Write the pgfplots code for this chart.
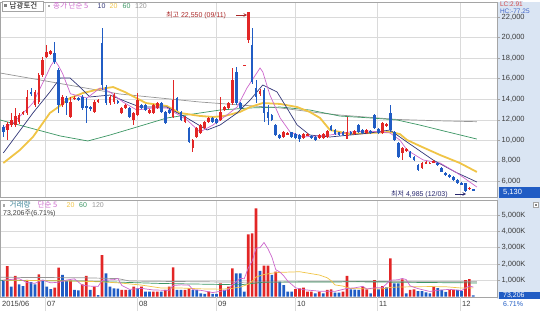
\documentclass[border=0pt]{standalone}
\usepackage{fontspec}
\setmainfont{Liberation Sans}
\newfontfamily\kr{Noto Sans CJK KR}
\usepackage{pgfplots}
\usepackage{pgfplotstable}
\pgfplotsset{compat=1.18}
\definecolor{cup}{RGB}{226,38,38}
\definecolor{cdn}{RGB}{32,92,196}
\definecolor{ma5}{RGB}{204,102,204}
\definecolor{ma10}{RGB}{50,55,120}
\definecolor{ma20}{RGB}{240,196,70}
\definecolor{ma60}{RGB}{60,150,100}
\definecolor{ma120}{RGB}{150,150,150}
\definecolor{gridc}{RGB}{218,218,218}
\definecolor{framec}{RGB}{165,165,165}
\definecolor{band}{RGB}{218,229,243}
\definecolor{txt}{RGB}{60,60,60}
\definecolor{annoA}{RGB}{170,40,40}
\definecolor{annoB}{RGB}{40,40,110}
\definecolor{volc}{RGB}{60,130,150}

\pgfplotstableread{
i o h l c
1 11000 11780 10030 11590
2 11490 12660 11290 11980
3 11490 13150 11290 12370
4 11780 12660 11590 12460
5 12660 12850 12460 12720
6 12660 14900 12460 14220
8 13440 14900 13240 14710
9 13730 16560 13540 16360
10 16360 18120 16170 17830
11 18120 19290 18020 18610
12 18410 18800 18310 18700
15 13440 14410 13240 14220
17 12270 14250 12140 13730
18 14080 14300 13900 14140
23 12790 13900 12700 13760
24 13730 14000 13600 13930
27 13630 14400 13400 14220
28 13730 14600 13540 14410
30 12630 13240 12560 13120
31 13120 13540 13050 13440
33 11980 12760 11490 12630
34 12460 14580 12370 13930
37 12630 13050 12560 12950
38 12630 13540 12560 13440
39 13120 13700 13050 13600
43 12300 15880 12170 13930
46 11810 12400 11700 12300
48 9220 10120 8900 10030
49 10350 11290 10250 11170
50 10680 11590 10580 11490
51 11170 11900 11100 11810
52 11810 12250 11700 12140
55 11980 14250 11880 12790
56 12950 13340 12850 13270
57 13120 13700 13050 13600
58 13600 17010 13440 15880
61 17290 17350 17290 17350
62 19780 22550 19480 22550
65 14510 15000 14300 14800
71 10350 10900 10250 10780
72 10610 10760 10510 10680
76 10220 10700 10120 10610
77 10480 10700 10400 10610
80 10190 10600 10100 10510
81 10250 10700 10150 10610
82 10350 11000 10250 10900
87 10100 12300 10100 10840
89 10610 11000 10550 10930
92 10710 11100 10650 11000
96 10680 11750 10600 11650
97 11390 11700 11300 11590
101 8730 9300 8080 9220
102 9000 9200 8900 9100
106 7270 7850 7200 7750
107 7750 8000 7700 7910
108 7730 7900 7650 7800
109 7810 8100 7750 7980
118 5250 5450 5150 5350
}\candUp

\pgfplotstableread{
i o h l c
0 11320 11490 10320 10840
7 14700 15100 14320 14510
13 18510 19580 17440 17630
14 16850 17050 12660 13440
16 14120 14320 12460 13630
19 14120 14200 13830 13930
20 14200 14410 12950 13120
21 13340 14090 11650 13220
22 13210 13300 12900 13020
25 19480 20950 14900 15390
26 15170 15390 13440 13600
29 13860 13930 13500 13600
32 13120 13240 12170 12300
35 13440 13540 13050 13120
36 13440 13540 12850 12950
40 13600 13700 12700 12790
41 12790 12900 11550 11650
42 12950 13050 12560 12630
44 14090 14200 12850 12950
45 12790 12900 11880 11980
47 11170 11300 9760 9860
53 12140 12250 11700 11810
54 12040 12140 11550 11650
59 16690 17170 13440 13600
60 13600 13700 13050 13120
63 19290 20950 15500 15710
64 15050 15880 13600 14250
66 14900 15100 11810 12630
67 12790 13440 11490 12140
68 12460 12560 11880 11980
69 11490 11590 10420 10510
70 10510 10600 10100 10190
73 10780 10850 10250 10350
74 10610 10700 10150 10250
75 10510 10600 9860 10120
78 10460 10550 10100 10190
79 10350 10420 9960 10030
83 11420 11500 10900 11000
84 11000 11100 10480 10580
85 10780 10850 10420 10510
86 10840 10900 10420 10510
88 10840 10900 10500 10610
90 11490 11600 10750 10840
91 11000 11050 10600 10680
93 10930 11000 10600 10680
94 12460 12560 11100 11170
95 11100 11200 10600 10680
98 12630 13440 10840 11000
99 10840 10900 9950 10030
100 9700 9800 8300 8400
103 8880 8950 8300 8400
104 8400 8450 8000 8080
105 7590 7650 7050 7100
110 7750 7850 7500 7590
111 7270 7350 6900 6940
112 6840 6900 6550 6610
113 6610 6700 6350 6390
114 6450 6500 6050 6130
115 6130 6200 5750 5800
116 5850 5900 5600 5650
117 5830 5850 4985 5010
119 5200 5250 5050 5130
}\candDn

\pgfplotstableread{
i v
1 1870
3 1260
6 1020
9 1360
13 540
14 1770
17 980
20 750
21 1260
23 600
25 2546
30 400
31 400
33 600
35 600
38 300
39 300
41 400
42 600
43 1780
46 400
47 500
52 300
55 800
57 600
58 1720
62 3810
63 3880
64 5410
66 1890
67 1890
69 1520
74 460
75 500
76 540
77 300
78 300
80 300
82 400
83 440
86 300
87 1260
91 600
92 440
94 1010
96 640
98 2340
101 1050
103 400
104 440
109 600
113 400
114 400
117 1010
118 1060
}\volUp

\pgfplotstableread{
i v
0 1010
2 600
4 750
5 640
7 890
8 750
10 1020
11 600
12 460
15 1320
16 950
18 400
19 380
22 400
24 90
26 1420
27 600
28 500
29 480
32 400
34 500
36 300
37 300
40 300
44 400
45 400
48 400
49 400
50 200
51 160
53 160
54 160
56 400
59 1420
60 1420
61 300
65 1580
68 1320
70 910
71 700
72 300
73 300
79 200
81 200
84 240
85 240
88 440
89 420
90 400
93 200
95 440
97 560
99 800
100 810
102 200
105 330
106 330
107 250
108 200
110 520
111 400
112 280
115 400
116 350
119 73
}\volDn

\begin{document}
\begin{tikzpicture}
\useasboundingbox (0,0) rectangle (540pt,311pt);
\fill[band] (497pt,12pt) rectangle (540pt,309pt);

% ---------------- price panel
\begin{axis}[
  at={(0pt,114pt)}, anchor=south west,
  scale only axis, width=497pt, height=195pt,
  xmin=-0.84, xmax=125, ymin=4468, ymax=23481,
  axis line style={draw=framec, line width=0.5pt},
  xtick={10.56,33.85,53.85,73.85,94.6,115.6}, xticklabels={},
  xmajorgrids, ymajorgrids,
  grid style={draw=gridc, line width=0.5pt},
  ytick={6000,8000,10000,12000,14000,16000,18000,20000,22000},
  yticklabels={{6,000},{8,000},{10,000},{12,000},{14,000},{16,000},{18,000},{20,000},{22,000}},
  ytick pos=right, yticklabel pos=right,
  tick align=outside, major tick length=3pt,
  xtick style={draw=none}, ytick style={draw=framec, line width=0.5pt},
  yticklabel style={font=\fontsize{7.5}{9}\selectfont, text=txt, inner sep=1.5pt},
  scaled y ticks=false,
]
% moving averages
\addplot[ma120, line width=0.7pt] coordinates {(-0.84,16560) (9.3,15880) (19.4,15190) (29.5,14510) (39.7,14120) (49.8,13730) (59.9,13440) (70.1,13150) (80.2,12660) (85.2,12460) (99.7,12030) (110,11900) (119.9,11810)};
\addplot[ma60, line width=0.7pt] coordinates {(-0.84,11980) (6.8,11200) (14.4,10420) (21.4,9930) (27,10510) (33.8,11290) (41.4,12170) (49.8,12660) (54.9,12950) (62.5,13150) (70.1,13240) (77.6,12950) (85.2,12360) (92.8,12180) (99.7,11980) (105.5,11480) (111.8,10880) (119.9,10120)};
\addplot[ma20, line width=1.8pt] coordinates {(0,7780) (4.2,9050) (7.5,10320) (11.8,12660) (13.6,13150) (16.9,14120) (20.2,14610) (24.5,15000) (27.8,15190) (30.8,14700) (36.1,13630) (41.4,13340) (44.7,12660) (49.8,12370) (53.1,12270) (56.1,12370) (59.9,12760) (62.5,13240) (65.7,13630) (70.1,13540) (74.4,13240) (77.6,12760) (80.2,12170) (82.7,11000) (87.8,10610) (92.8,10710) (97.9,10810) (100.4,10610) (102.2,10030) (105.5,9440) (110.6,8560) (115.6,7780) (119.9,6910)};
\addplot[ma10, line width=0.7pt] coordinates {(0,8760) (7.5,12660) (11.8,14710) (14.4,16070) (16.9,16070) (19.4,15190) (21.9,14220) (27,14410) (31.3,13730) (34.6,13240) (41.4,13240) (46.5,12170) (51.6,11000) (54.9,11490) (59.2,12660) (62.5,13930) (65.7,15390) (69.3,14710) (71.8,13150) (74.4,11490) (77.6,10510) (82.7,10320) (87.8,10510) (92.8,10710) (97.9,11000) (102.2,9830) (108.8,8080) (114.4,6910) (119.9,5930)};
\addplot[ma5, line width=0.7pt] coordinates {(0,11200) (2.5,11680) (7.5,13630) (11,16400) (12,17240) (13,17830) (14,17240) (15,16520) (16,15520) (17,14530) (21.2,14120) (24.5,15100) (27,14710) (30.3,13730) (33.8,12950) (37.9,13150) (41.4,13150) (46.5,11980) (49.8,10810) (53.1,11490) (56.6,12460) (59.2,13240) (61.7,15100) (65,17045) (65.7,16660) (67.5,14410) (70.1,12170) (72.6,10810) (75.9,10320) (82.7,10510) (87.8,10810) (92.8,10900) (97.9,10710) (100.4,10030) (102.2,9050) (106.3,8080) (110.6,7780) (114.9,6810) (119.9,5440)};
% candles: wicks and bodies
\addplot[draw=none, mark=none, forget plot, error bars/.cd, y dir=both, y explicit, error mark=none,
  error bar style={draw=cup, line width=0.8pt}]
  table[x=i, y expr={0.5*(\thisrow{h}+\thisrow{l})}, y error expr={0.5*(\thisrow{h}-\thisrow{l})}] {\candUp};
\addplot[draw=none, mark=none, forget plot, error bars/.cd, y dir=both, y explicit, error mark=none,
  error bar style={draw=cup, line width=2.7pt}]
  table[x=i, y expr={0.5*(\thisrow{o}+\thisrow{c})}, y error expr={0.5*(\thisrow{c}-\thisrow{o})}] {\candUp};
\addplot[draw=none, mark=none, forget plot, error bars/.cd, y dir=both, y explicit, error mark=none,
  error bar style={draw=cdn, line width=0.8pt}]
  table[x=i, y expr={0.5*(\thisrow{h}+\thisrow{l})}, y error expr={0.5*(\thisrow{h}-\thisrow{l})}] {\candDn};
\addplot[draw=none, mark=none, forget plot, error bars/.cd, y dir=both, y explicit, error mark=none,
  error bar style={draw=cdn, line width=2.7pt}]
  table[x=i, y expr={0.5*(\thisrow{o}+\thisrow{c})}, y error expr={0.5*(\thisrow{o}-\thisrow{c})}] {\candDn};
\end{axis}

% ---------------- volume panel
\begin{axis}[
  at={(0pt,14pt)}, anchor=south west,
  scale only axis, width=497pt, height=97pt,
  xmin=-0.84, xmax=125, ymin=-30, ymax=5920,
  axis line style={draw=framec, line width=0.5pt},
  xtick={-0.84,10.56,33.85,53.85,73.85,94.6,115.6},
  xticklabels={2015/06,07,08,09,10,11,12},
  xticklabel style={font=\fontsize{7.5}{9}\selectfont, text=txt, anchor=north west, inner sep=1pt, xshift=1pt},
  xmajorgrids, ymajorgrids,
  grid style={draw=gridc, line width=0.5pt},
  ytick={1000,2000,3000,4000,5000},
  yticklabels={{1,000K},{2,000K},{3,000K},{4,000K},{5,000K}},
  ytick pos=right, yticklabel pos=right,
  tick align=outside, major tick length=3pt,
  xtick style={draw=none}, ytick style={draw=framec, line width=0.5pt},
  yticklabel style={font=\fontsize{7.5}{9}\selectfont, text=txt, inner sep=1.5pt},
  scaled y ticks=false,
]
\addplot[ybar, bar width=2.7pt, bar shift=0pt, fill=cup, draw=none, forget plot] table[x=i, y=v] {\volUp};
\addplot[ybar, bar width=2.7pt, bar shift=0pt, fill=cdn, draw=none, forget plot] table[x=i, y=v] {\volDn};
\addplot[ma120, line width=0.7pt] coordinates {(-0.84,1180) (20,1150) (29,1100) (32,950) (60,880) (90,920) (119.9,900)};
\addplot[ma60, line width=0.7pt] coordinates {(-0.84,1000) (20,950) (40,800) (60,720) (66,880) (90,900) (119.9,830)};
\addplot[ma20, line width=0.7pt] coordinates {(0,1000) (10,980) (19,940) (25,900) (30,820) (35,700) (40,520) (45,520) (50,470) (55,450) (58,500) (60,580) (62,750) (63,930) (64,1200) (65,1270) (66,1350) (68,1430) (70,1480) (75,1520) (80,1320) (82,1150) (83,970) (84,710) (86,640) (88,490) (92,470) (96,470) (98,560) (100,580) (104,600) (108,610) (112,600) (116,520) (119,530)};
\addplot[ma5, line width=0.7pt] coordinates {(0,1000) (4,1098) (6,854) (8,810) (10,1008) (12,838) (14,878) (16,1008) (18,1084) (20,692) (22,638) (24,620) (25,979) (26,1011) (28,1031) (29,1109) (30,680) (32,436) (35,500) (38,400) (42,380) (43,676) (45,716) (47,696) (48,420) (50,380) (53,244) (55,316) (57,424) (58,736) (60,1112) (61,1092) (62,1734) (63,2166) (64,2964) (65,2996) (66,3314) (67,2930) (68,2418) (69,1640) (70,1506) (71,1268) (72,950) (73,746) (74,534) (76,420) (80,328) (84,316) (87,496) (89,532) (91,624) (92,460) (94,530) (96,546) (98,998) (100,1030) (101,1112) (102,1040) (103,652) (105,484) (108,310) (110,380) (113,440) (116,366) (117,512) (118,644) (119,579)};
\end{axis}

% month separators in label row
\foreach \mx in {45,137,216,295,377,460} {\draw[gridc, line width=0.5pt] (\mx pt,0pt) -- (\mx pt,14pt);}

% ---- upper legend
\draw[framec, fill=white, line width=0.5pt] (2pt,300pt) rectangle (43pt,310pt);
\fill[gray] (4pt,303.5pt) rectangle (7pt,306.5pt);
\node[anchor=west, inner sep=0pt, font=\kr\fontsize{7.5}{9}\selectfont, text=black] at (9.5pt,305pt) {남광토건};
\fill[gray!70] (47.5pt,303.5pt) rectangle (50pt,306pt);
\node[anchor=west, inner sep=0pt, font=\kr\fontsize{7.5}{9}\selectfont, text=ma5] at (53pt,305pt) {종가 단순 5};
\node[anchor=west, inner sep=0pt, font=\fontsize{7}{9}\selectfont, text=ma10] at (97.5pt,305pt) {10};
\node[anchor=west, inner sep=0pt, font=\fontsize{7}{9}\selectfont, text=ma20] at (109.5pt,305pt) {20};
\node[anchor=west, inner sep=0pt, font=\fontsize{7}{9}\selectfont, text=ma60] at (122.5pt,305pt) {60};
\node[anchor=west, inner sep=0pt, font=\fontsize{7}{9}\selectfont, text=ma120] at (135pt,305pt) {120};

% ---- lower legend
\fill[gray!70] (2.5pt,104.5pt) rectangle (5pt,107pt);
\node[anchor=west, inner sep=0pt, font=\kr\fontsize{7.5}{9}\selectfont, text=volc] at (9.5pt,106pt) {거래량};
\node[anchor=west, inner sep=0pt, font=\kr\fontsize{7.5}{9}\selectfont, text=ma5] at (37.5pt,106pt) {단순 5};
\node[anchor=west, inner sep=0pt, font=\fontsize{7}{9}\selectfont, text=ma20] at (66.5pt,106pt) {20};
\node[anchor=west, inner sep=0pt, font=\fontsize{7}{9}\selectfont, text=ma60] at (79pt,106pt) {60};
\node[anchor=west, inner sep=0pt, font=\fontsize{7}{9}\selectfont, text=ma120] at (92pt,106pt) {120};
\node[anchor=west, inner sep=0pt, font=\fontsize{7}{9}\selectfont, text=txt] at (3pt,97.5pt) {73,206{\kr 주}(6.71\%)};

% ---- annotations
\node[anchor=west, inner sep=0pt, font=\fontsize{7}{9}\selectfont, text=annoA] at (166pt,296pt) {{\kr 최고} 22,550 (09/11)};
\draw[annoA, -stealth, line width=0.6pt] (236pt,296pt) -- (247pt,296pt);
\node[anchor=west, inner sep=0pt, font=\fontsize{7}{9}\selectfont, text=annoB] at (391pt,117pt) {{\kr 최저} 4,985 (12/03)};
\draw[annoB, -stealth, line width=0.6pt] (455pt,117pt) -- (466pt,117pt);

% ---- right band extras
\node[anchor=west, inner sep=0.3pt, fill=band, font=\fontsize{6.5}{7}\selectfont, text={rgb,255:red,208;green,72;blue,72}] at (499.5pt,307pt) {LC:2.91};
\node[anchor=west, inner sep=0.3pt, fill=band, font=\fontsize{6.5}{7}\selectfont, text={rgb,255:red,64;green,100;blue,200}] at (499.5pt,300.2pt) {HC:-77.25};
\fill[cdn] (499pt,113pt) rectangle (540pt,124pt);
\node[anchor=west, inner sep=0pt, font=\fontsize{7.5}{9}\selectfont, text=white] at (503pt,118.5pt) {5,130};
\fill[cdn] (499pt,12pt) rectangle (540pt,19.5pt);
\node[anchor=west, inner sep=0pt, font=\fontsize{7}{8}\selectfont, text=white] at (503pt,15.8pt) {73,206};
\node[anchor=west, inner sep=0pt, font=\fontsize{7}{8}\selectfont, text=cdn] at (503pt,6.5pt) {6.71\%};
\draw[framec, fill=white, line width=0.4pt] (533pt,104pt) rectangle (538pt,109pt);
\fill[gray] (534.5pt,105.5pt) rectangle (536.5pt,107.5pt);
\end{tikzpicture}
\end{document}
